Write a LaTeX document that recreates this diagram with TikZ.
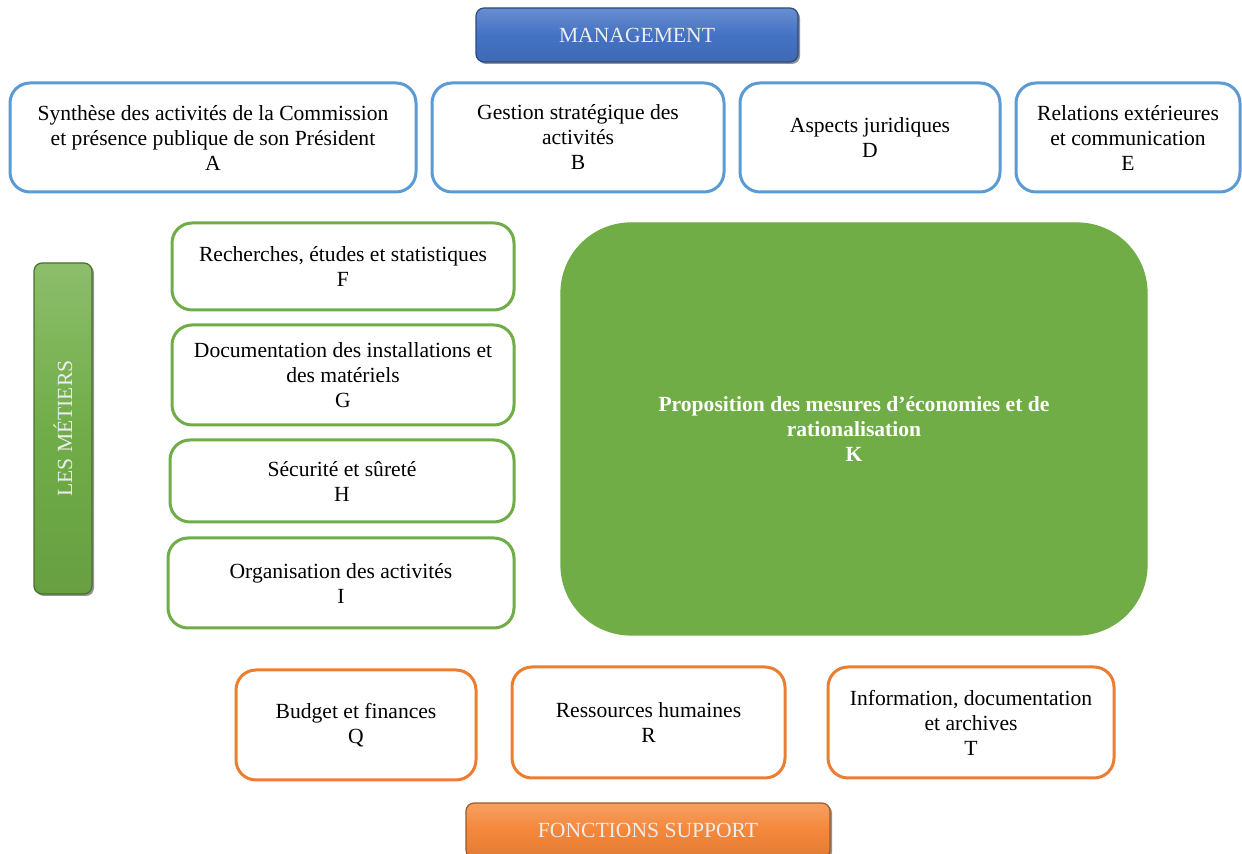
\documentclass[tikz,border=0pt]{standalone}
\usepackage{fontspec}
\setmainfont{Liberation Serif}
\usetikzlibrary{shadows}

\definecolor{mgmtblue}{HTML}{4472C4}
\definecolor{lineblue}{HTML}{5B9BD5}
\definecolor{metiergreen}{HTML}{70AD47}
\definecolor{supportorange}{HTML}{ED7D31}
\definecolor{bannerorange}{HTML}{F4873A}

\tikzset{
	unitbox/.style={draw, line width=1.5pt, rounded corners=10pt, fill=white, align=center, inner sep=2pt, font=\fontsize{10.8}{12.5}\selectfont},
	mgmtbox/.style={unitbox, draw=lineblue, minimum height=54.5pt},
	metierbox/.style={unitbox, draw=metiergreen},
	supportbox/.style={unitbox, draw=supportorange, minimum height=55.5pt},
	banner/.style={rounded corners=4pt, draw=#1!65!black, line width=0.6pt, top color=#1!80!white, bottom color=#1!92!black, middle color=#1, text=white!93!black, align=center, inner sep=2pt, font=\fontsize{10.8}{12.5}\selectfont, drop shadow={shadow xshift=1pt, shadow yshift=-1pt, fill=black!60, opacity=0.7}}
}

\begin{document}
\begin{tikzpicture}[x=0.5pt, y=-0.5pt]
	
	% Frame
	\clip (0,0) rectangle (1242,854);
	\fill[white] (0,0) rectangle (1242,854);
	
	% Management
	\node[banner=mgmtblue, minimum width=161pt, minimum height=27pt] (management) at (637,35) {MANAGEMENT};
	\node[mgmtbox, minimum width=203pt] (A) at (213,137.5) {Synthèse des activités de la Commission\\ et présence publique de son Président\\ A};
	\node[mgmtbox, minimum width=146pt] (B) at (578,137.5) {Gestion stratégique des\\ activités\\ B};
	\node[mgmtbox, minimum width=130pt] (D) at (870,137.5) {Aspects juridiques\\ D};
	\node[mgmtbox, minimum width=112pt] (E) at (1128,137.5) {Relations extérieures\\ et communication\\ E};
	
	% Les metiers
	\node[banner=metiergreen, rotate=90, minimum width=165.5pt, minimum height=29pt] (metiers) at (63,428.5) {LES MÉTIERS};
	\node[metierbox, minimum width=171pt, minimum height=43.5pt] (F) at (343,266.5) {Recherches, études et statistiques\\ F};
	\node[metierbox, minimum width=171pt, minimum height=50pt] (G) at (343,375) {Documentation des installations et\\ des matériels\\ G};
	\node[metierbox, minimum width=172pt, minimum height=41pt] (H) at (342,481) {Sécurité et sûreté\\ H};
	\node[metierbox, minimum width=173pt, minimum height=45pt] (I) at (341,583) {Organisation des activités\\ I};
	\node[metierbox, fill=metiergreen, line width=0.6pt, rounded corners=35pt, text=white, minimum width=293pt, minimum height=206pt, font=\fontsize{10.8}{12.5}\selectfont\bfseries] (K) at (854,429) {Proposition des mesures d’économies et de\\ rationalisation\\ K};
	
	% Fonctions support
	\node[supportbox, minimum width=120pt, minimum height=55pt] (Q) at (356,725) {Budget et finances\\ Q};
	\node[supportbox, minimum width=136.5pt] (R) at (648.5,722.5) {Ressources humaines\\ R};
	\node[supportbox, minimum width=143pt] (T) at (971,722.5) {Information, documentation\\ et archives\\ T};
	\node[banner=bannerorange, minimum width=182pt, minimum height=27.5pt] (support) at (648,830.5) {FONCTIONS SUPPORT};
	
\end{tikzpicture}
\end{document}
